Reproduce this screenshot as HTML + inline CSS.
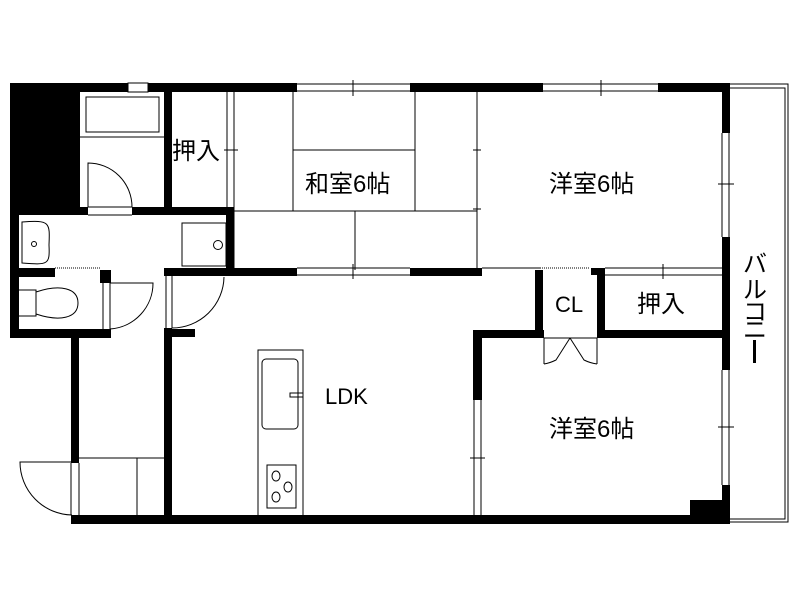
<!DOCTYPE html>
<html><head><meta charset="utf-8"><style>
html,body{margin:0;padding:0;background:#fff}
svg{display:block}
text{font-family:"Liberation Sans","Noto Sans CJK JP",sans-serif;fill:#000}
</style></head><body>
<svg width="800" height="600" viewBox="0 0 800 600" xmlns="http://www.w3.org/2000/svg">
<rect width="800" height="600" fill="#fff"/>
<g fill="none" stroke="#000" stroke-width="1">
<path d="M730 84 H788 V522 H730"/>
<path d="M730 88 H785 V519 H730"/>
<path d="M297 84 H410 M297 91 H410 M353 80 V96"/>
<path d="M543 84 H658 M543 91 H658 M601 80 V96"/>
<path d="M722 133 V237 M729 133 V237 M718 184 H734"/>
<path d="M722 370 V485 M729 370 V485 M718 427 H734"/>
<path d="M474 400 V520 M481 400 V520 M470 458 H485"/>
<path d="M297 268 H410 M297 275 H410 M353 264 V279"/>
<path d="M605 268 H722 M605 275 H722 M663 264 V279"/>
<path d="M227 92 V270 M234 92 V270 M224 150 H238"/>
<path d="M128 83 H148 V92 H128Z"/>
<path d="M293 92 V211 M293 150 H415 M415 92 V211 M234 211 H477 M355 211 V270 M477 92 V270 M473 150 H481 M473 209 H481"/>
<path d="M482 268 H540"/>
<path d="M540 268 H590" stroke-dasharray="1,1"/>
<path d="M55 268 H100" stroke-dasharray="1,1"/>
<rect x="86" y="97" width="73" height="35"/>
<path d="M80 137 H164"/>
<path d="M88 207 V163 A44 44 0 0 1 132 207 M88 207 H132 M88 215 H132"/>
<path d="M22 222 C50 220 50 222 49 245 C50 265 48 265 22 263 Z"/>
<circle cx="34" cy="244" r="2.5"/>
<rect x="182" y="223" width="44" height="43"/>
<circle cx="218" cy="245" r="4.5"/>
<path d="M19 290 H36 V316 H19 M36 292 C60 284 78 288 78 303 C78 318 60 322 36 314"/>
<path d="M103 283 V329 M110 283 V329 M110 283 H153 A46 46 0 0 1 110 329"/>
<path d="M166 276 V328 M172 276 V328 M172 328 A52 52 0 0 0 224 277"/>
<path d="M79 458 H164 M137 458 V516"/>
<path d="M71 463 V515 M79 463 V515 M72 462 H20 A53 53 0 0 0 72 515"/>
<rect x="258" y="350" width="45" height="166"/>
<rect x="262" y="359" width="36" height="70" rx="4"/>
<rect x="290" y="393" width="13" height="4"/>
<rect x="267" y="465" width="29" height="43"/>
<ellipse cx="276" cy="476" rx="4" ry="5"/>
<ellipse cx="288" cy="487" rx="4" ry="5"/>
<ellipse cx="276" cy="497" rx="4" ry="5"/>
<path d="M544 338 H597 M544 338 V364 M597 338 V364 M570 338 L556 360 Q550 363 544 364 M570 338 L584 360 Q590 363 597 364"/>
</g>
<g fill="#000">
<rect x="10" y="83" width="118" height="9"/>
<rect x="148" y="83" width="149" height="9"/>
<rect x="410" y="83" width="133" height="9"/>
<rect x="658" y="83" width="72" height="9"/>
<rect x="10" y="83" width="70" height="124"/>
<rect x="10" y="207" width="78" height="8"/>
<rect x="132" y="207" width="102" height="8"/>
<rect x="10" y="207" width="9" height="131"/>
<rect x="164" y="92" width="8" height="115"/>
<rect x="226" y="207" width="8" height="69"/>
<rect x="10" y="268" width="45" height="9"/>
<rect x="10" y="329" width="101" height="9"/>
<rect x="100" y="270" width="11" height="13"/>
<rect x="164" y="268" width="133" height="8"/>
<rect x="410" y="268" width="72" height="8"/>
<rect x="164" y="268" width="8" height="8"/>
<rect x="164" y="328" width="8" height="196"/>
<rect x="164" y="329" width="31" height="8"/>
<rect x="71" y="338" width="8" height="125"/>
<rect x="71" y="515" width="659" height="9"/>
<rect x="535" y="270" width="8" height="68"/>
<rect x="591" y="268" width="14" height="7"/>
<rect x="597" y="268" width="8" height="70"/>
<rect x="473" y="330" width="71" height="8"/>
<rect x="597" y="330" width="133" height="8"/>
<rect x="473" y="330" width="9" height="70"/>
<rect x="722" y="83" width="8" height="50"/>
<rect x="722" y="237" width="8" height="133"/>
<rect x="722" y="485" width="8" height="39"/>
<rect x="690" y="500" width="40" height="24"/>
</g>
<g font-size="24">
<text x="172" y="159">押入</text>
<text x="305" y="192">和室6帖</text>
<text x="549" y="192">洋室6帖</text>
<text x="549" y="437">洋室6帖</text>
<text x="637" y="312">押入</text>
<text x="555" y="312" font-size="22">CL</text>
<text x="325" y="404" font-size="22">LDK</text>
</g>
<g font-size="24" text-anchor="middle">
<text x="755" y="272">バ</text>
<text x="755" y="298">ル</text>
<text x="755" y="320">コ</text>
<text x="755" y="338">ニ</text>
</g>
<rect x="753" y="340" width="3" height="23" fill="#000"/>
</svg>
</body></html>
